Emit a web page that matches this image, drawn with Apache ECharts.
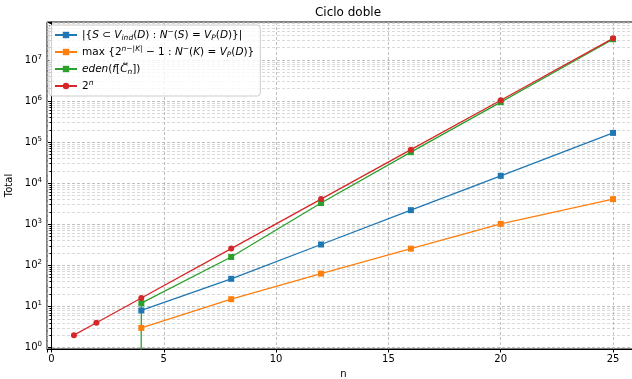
<!DOCTYPE html>
<html>
<head>
<meta charset="utf-8">
<script src="https://cdn.jsdelivr.net/npm/echarts@6/dist/echarts.min.js"></script>
<style>
  html, body { margin: 0; padding: 0; background: #fff; }
  #chart { width: 632px; height: 379px; }
</style>
</head>
<body>
<div id="chart"></div>
<script>
// n values for each curve
var nFull = [1, 2, 4, 8, 12, 16, 20, 25];
var nFrom4 = [4, 8, 12, 16, 20, 25];

// |{S ⊂ V_ind(D) : N^-(S) = V_P(D)}|
var indepSets = [8, 47, 322, 2207, 15127, 167761];
// max {2^(n-|K|) - 1 : ...}
var maxSets = [3, 15, 63, 255, 1023, 4095];
// eden(f[C_n]) - zero at n=1,2 (drops off the log axis)
var edenVals = [0, 0, 12, 160, 3300, 57000, 940000, 32000000];
// 2^n
var powVals = [2, 4, 16, 256, 4096, 65536, 1048576, 33554432];

var colors = ["#1f77b4", "#ff7f0e", "#2ca02c", "#d62728"];
var font = "DejaVu Sans";

function pairs(xs, ys) {
  return xs.map(function (x, i) {
    if (ys[i] <= 0) {
      // log scale can't show 0, clip like matplotlib does
      return { value: [x, 1e-300], symbol: "none" };
    }
    return [x, ys[i]];
  });
}

function makeSeries(name, xs, ys, color, symbol) {
  return {
    name: name,
    type: "line",
    data: pairs(xs, ys),
    symbol: symbol,
    symbolSize: 6,
    showSymbol: true,
    clip: true,
    lineStyle: { color: color, width: 1.3 },
    itemStyle: { color: color },
    emphasis: { disabled: true },
    animation: false,
  };
}

var legendText = {
  s1: "|{{i|S} ⊂ {i|V}{sb|ind}({i|D}) : {i|N}{sp|−}({i|S}) = {i|V}{sb|P}({i|D})}|",
  s2: "max {2{sp|n−|K|} − 1 : {i|N}{sp|−}({i|K}) = {i|V}{sb|P}({i|D})}",
  s3: "{i|eden}({i|f}[{i|C\u20E1}{sb|n}])",
  s4: "2{sp|n}",
};

var chart = echarts.init(document.getElementById("chart"), null, { renderer: "canvas" });

var option = {
  animation: false,
  title: {
    text: "Ciclo doble",
    left: 343,
    top: 2,
    textAlign: "center",
    textStyle: { fontFamily: font, fontSize: 12, fontWeight: "normal", color: "#000" },
  },
  legend: {
    orient: "vertical",
    left: 49,
    top: 25,
    padding: [3, 6, 3, 5],
    itemGap: 3,
    itemWidth: 22,
    itemHeight: 8,
    backgroundColor: "rgba(255,255,255,0.8)",
    borderColor: "#ccc",
    borderWidth: 1,
    borderRadius: 3,
    data: ["s1", "s2", "s3", "s4"],
    formatter: function (name) {
      return legendText[name];
    },
    textStyle: {
      fontFamily: font,
      fontSize: 10.5,
      lineHeight: 14,
      color: "#000",
      rich: {
        i: { fontFamily: font, fontSize: 10.5, lineHeight: 14, fontStyle: "italic", color: "#000" },
        sb: { fontFamily: font, fontSize: 7.5, lineHeight: 14, fontStyle: "italic", color: "#000", verticalAlign: "bottom" },
        sp: { fontFamily: font, fontSize: 7.5, lineHeight: 14, fontStyle: "italic", color: "#000", verticalAlign: "top" },
      },
    },
  },
  grid: {
    left: 47,
    top: 22,
    right: -8,
    bottom: 30,
    show: true,
    borderColor: "#000",
    borderWidth: 1,
    containLabel: false,
    outerBoundsMode: "none",
  },
  xAxis: {
    type: "value",
    min: -0.2,
    max: 26.2,
    splitNumber: 5,
    name: "n",
    nameLocation: "middle",
    nameGap: 20,
    nameTextStyle: { fontFamily: font, fontSize: 10, color: "#000" },
    axisLine: { lineStyle: { color: "#000", width: 1 } },
    axisTick: { length: 3.5, lineStyle: { color: "#000" } },
    axisLabel: {
      fontFamily: font,
      fontSize: 10,
      color: "#000",
      margin: 5,
      formatter: function (v) {
        return Math.abs(v % 5) < 1e-9 ? String(v) : "";
      },
    },
    splitLine: { show: true, lineStyle: { color: "#b0b0b0", type: [3, 2], width: 0.8 } },
  },
  yAxis: {
    type: "log",
    logBase: 10,
    min: 0.92,
    max: 8.4e7,
    name: "Total",
    nameLocation: "middle",
    nameGap: 23,
    nameTextStyle: { fontFamily: font, fontSize: 10, color: "#000" },
    axisLine: { show: true, lineStyle: { color: "#000", width: 1 } },
    axisTick: { length: 3.5, lineStyle: { color: "#000" } },
    minorTick: { show: true, splitNumber: 9, length: 2, lineStyle: { color: "#000" } },
    minorSplitLine: { show: true, lineStyle: { color: "#d0d0d0", type: [3, 2], width: 0.8 } },
    axisLabel: {
      color: "#000",
      margin: 5,
      formatter: function (v) {
        var e = Math.log10(v);
        if (Math.abs(e - Math.round(e)) > 1e-6) return "";
        return "{b|10}{s|" + Math.round(e) + "}";
      },
      rich: {
        b: { fontFamily: font, fontSize: 10, color: "#000" },
        s: { fontFamily: font, fontSize: 7, color: "#000", padding: [0, 0, 6, 0] },
      },
    },
    splitLine: { show: true, lineStyle: { color: "#b0b0b0", type: [3, 2], width: 0.8 } },
  },
  series: [
    makeSeries("s1", nFrom4, indepSets, colors[0], "rect"),
    makeSeries("s2", nFrom4, maxSets, colors[1], "rect"),
    makeSeries("s3", nFull, edenVals, colors[2], "rect"),
    makeSeries("s4", nFull, powVals, colors[3], "circle"),
  ],
};

chart.setOption(option);
</script>
</body>
</html>
